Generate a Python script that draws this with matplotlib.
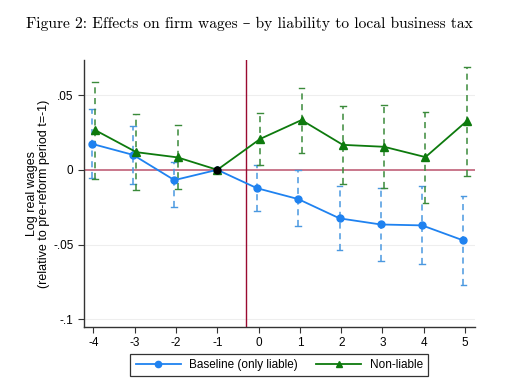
import numpy as np
import matplotlib
matplotlib.use("Agg")
import matplotlib.pyplot as plt
from matplotlib.ticker import FixedLocator, FixedFormatter

# event time relative to reform
periodos = [-4, -3, -2, -1, 0, 1, 2, 3, 4, 5]

# baseline (only liable)
base = [0.0174, 0.010, -0.0069, 0.0, -0.0123, -0.0196, -0.0325, -0.0366, -0.0372, -0.0473]
base_hi = [0.0404, 0.029, 0.0050, 0.0, 0.0030, -0.0002, -0.0107, -0.0120, -0.0107, -0.0178]
base_lo = [-0.0053, -0.0096, -0.0250, 0.0, -0.0275, -0.0375, -0.0540, -0.0610, -0.0630, -0.0770]

# non-liable
nol = [0.0266, 0.0118, 0.0083, 0.0, 0.0207, 0.0333, 0.0167, 0.0154, 0.0085, 0.0326]
nol_hi = [0.0590, 0.0373, 0.0300, 0.0, 0.0380, 0.0550, 0.0426, 0.0431, 0.0388, 0.0690]
nol_lo = [-0.0060, -0.0134, -0.0130, 0.0, 0.0030, 0.0110, -0.0096, -0.0125, -0.0225, -0.0042]

yticks = [0.05, 0.0, -0.05, -0.1]
ytick_labels = [".05", "0", "-.05", "-.1"]

plt.rcParams['font.family'] = ['Liberation Sans', 'DejaVu Sans']

fig = plt.figure(figsize=(5.18, 3.92), dpi=100)
ax = fig.add_axes([0.162, 0.1666, 0.755, 0.680])

azul = '#1f82f0'
azul_ci = '#4a98e0'
verde = '#0d7a0d'
verde_ci = '#3a8a3a'

x = np.array(periodos, dtype=float)
sin_ref = x != -1
dx = 0.04

def barras(xs, lo, hi, color):
    for xi, a, b in zip(xs, lo, hi):
        ax.plot([xi, xi], [a, b], color=color, lw=1.1, ls=(0, (4, 3)), zorder=3)
        ax.plot([xi - 0.07, xi + 0.07], [a, a], color=color, lw=1.0, zorder=3)
        ax.plot([xi - 0.07, xi + 0.07], [b, b], color=color, lw=1.0, zorder=3)

# grid and reference lines
for yt in [0.05, -0.05, -0.1]:
    ax.axhline(yt, color='#eeeeee', lw=0.8, zorder=0)
ax.axhline(0, color='#c06078', lw=1.2, zorder=1)
ax.axvline(-0.3, color='#9a0a30', lw=1.0, zorder=1)

barras(x[sin_ref] - dx, np.array(base_lo)[sin_ref], np.array(base_hi)[sin_ref], azul_ci)
barras(x[sin_ref] + dx, np.array(nol_lo)[sin_ref], np.array(nol_hi)[sin_ref], verde_ci)

xb = np.where(sin_ref, x - dx, x)
xn = np.where(sin_ref, x + dx, x)
ax.plot(xb, base, color=azul, lw=1.3, marker='o', ms=5, zorder=4,
        label='Baseline (only liable)')
ax.plot(xn, nol, color=verde, lw=1.3, marker='^', ms=5.5, zorder=4,
        label='Non-liable')
ax.plot([-1], [0], 'o', color='black', ms=5, zorder=5)

ax.set_xlim(-4.23, 5.24)
ax.set_ylim(-0.105, 0.0734)
ax.xaxis.set_major_locator(FixedLocator(periodos))
ax.set_xticklabels([str(p) for p in periodos])
ax.yaxis.set_major_locator(FixedLocator(yticks))
ax.yaxis.set_major_formatter(FixedFormatter(ytick_labels))
ax.tick_params(labelsize=8.5, length=4, width=0.8, color='#333333')
for s in ['top', 'right']:
    ax.spines[s].set_visible(False)
for s in ['left', 'bottom']:
    ax.spines[s].set_color('#333333')
    ax.spines[s].set_linewidth(1.0)

ax.set_ylabel('Log real wages\n(relative to pre-reform period t=-1)', fontsize=9,
              labelpad=2, linespacing=1.0)

leg = fig.legend(loc='center', bbox_to_anchor=(0.539, 0.069), ncol=2, fontsize=8.5,
                 frameon=True, fancybox=False, edgecolor='black', handlelength=3.8,
                 handletextpad=0.7, columnspacing=1.6, borderpad=0.45, markerscale=0.9)
leg.get_frame().set_linewidth(0.9)

fig.text(0.05, 0.938, 'Figure 2: Effects on firm wages \u2013 by liability to local business tax',
         fontsize=11.2, family=['cmr10', 'DejaVu Serif'], ha='left', va='center')

fig.savefig('out.png', dpi=100)
